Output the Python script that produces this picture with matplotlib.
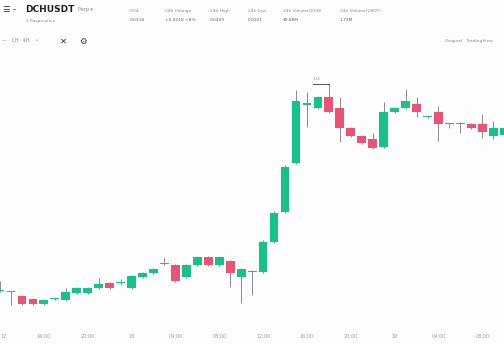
import numpy as np
import matplotlib
matplotlib.use("Agg")
import matplotlib.pyplot as plt

# hourly candles, oldest first
opens = [0.39, 0.38, 0.34, 0.31, 0.26, 0.31, 0.30, 0.37, 0.37, 0.42,
         0.47, 0.47, 0.42, 0.53, 0.57, 0.66, 0.65, 0.53, 0.65, 0.73,
         0.65, 0.69, 0.53, 0.58, 0.58, 0.88, 1.18, 1.67, 2.25, 2.22,
         2.33, 2.22, 2.02, 1.94, 1.91, 1.83, 2.18, 2.22, 2.26, 2.13,
         2.18, 2.06, 2.06, 2.06, 2.06, 1.94, 1.95]
highs = [0.49, 0.39, 0.35, 0.32, 0.31, 0.32, 0.42, 0.43, 0.43, 0.52,
         0.48, 0.51, 0.55, 0.58, 0.62, 0.72, 0.66, 0.66, 0.74, 0.74,
         0.74, 0.70, 0.62, 0.60, 0.90, 1.19, 1.65, 2.40, 2.38, 2.34,
         2.46, 2.33, 2.03, 1.95, 1.97, 2.28, 2.23, 2.41, 2.33, 2.14,
         2.24, 2.07, 2.08, 2.07, 2.16, 2.09, 2.04]
lows = [0.38, 0.25, 0.25, 0.25, 0.25, 0.30, 0.29, 0.36, 0.36, 0.41,
        0.41, 0.45, 0.41, 0.52, 0.56, 0.65, 0.48, 0.52, 0.64, 0.64,
        0.64, 0.43, 0.27, 0.35, 0.57, 0.87, 1.17, 1.66, 2.03, 2.21,
        2.17, 1.88, 1.93, 1.86, 1.81, 1.82, 2.17, 2.21, 2.13, 2.12,
        1.89, 2.02, 1.97, 2.01, 1.92, 1.91, 1.91]
closes = [0.39, 0.38, 0.26, 0.26, 0.30, 0.31, 0.38, 0.42, 0.42, 0.46,
          0.42, 0.47, 0.54, 0.57, 0.61, 0.66, 0.49, 0.65, 0.73, 0.65,
          0.73, 0.57, 0.61, 0.58, 0.88, 1.17, 1.63, 2.29, 2.27, 2.33,
          2.18, 2.02, 1.94, 1.87, 1.82, 2.18, 2.22, 2.29, 2.18, 2.13,
          2.06, 2.06, 2.06, 2.02, 1.98, 2.02, 2.02]
time_labels = ["12", "16:00", "20:00", "18", "04:00", "08:00",
               "12:00", "16:00", "20:00", "19", "04:00", "08:00"]
session_high = 2.46

UP, DOWN = "#14c389", "#ec5273"

o = np.array(opens); h = np.array(highs); l = np.array(lows); c = np.array(closes)
x = np.arange(len(o))
up = c >= o
cols = np.where(up, UP, DOWN)
bottom = np.minimum(o, c)
height = np.maximum(np.abs(c - o), 0.012)

fig = plt.figure(figsize=(5.04, 3.44), dpi=100)
fig.patch.set_facecolor("#fdfdfd")
ax = fig.add_axes([0, 24 / 344, 1, 270 / 344])
ax.set_facecolor("#fdfdfd")

ax.vlines(x, l, h, color="#8a8a8a", linewidth=0.7, zorder=1)
ax.bar(x, height, bottom=bottom, width=0.8, color=cols, zorder=2)

# session high marker
ihi = int(np.argmax(h))
ax.plot([ihi - 1.45, ihi], [session_high, session_high], color="#555", lw=0.7)
ax.text(ihi - 1.45, session_high + 0.03, f"{session_high:.2f}", fontsize=2.5,
        color="#999", ha="left", va="bottom")

ax.set_xlim(4.05 / 11.05, 508.05 / 11.05)
ax.set_ylim(0.10, 2.80)
for s in ax.spines.values():
    s.set_visible(False)
ax.set_yticks([])
ax.set_xticks(np.arange(0, 45, 4))
ax.set_xticklabels(time_labels, fontsize=3.5, color="#9a9a9a")
ax.tick_params(axis="x", length=0, pad=10)
ax.get_xticklabels()[0].set_ha("left")
ax.get_xticklabels()[0].set_x(0.5)

# header
fig.text(2 / 504, 1 - 10 / 344, "☰", fontsize=6, color="#333", va="center")
fig.text(13 / 504, 1 - 10 / 344, "-", fontsize=6, color="#333", va="center")
fig.text(25 / 504, 1 - 10 / 344, "DCHUSDT", fontsize=6.5, fontweight="bold",
         color="#222", va="center")
fig.text(78 / 504, 1 - 10 / 344, "Perp ▾", fontsize=3.5, color="#888", va="center")
fig.text(26 / 504, 1 - 21 / 344, "$ Kaspa price", fontsize=3.2, color="#888",
         va="center")
stats = [(130, "0.04", "0.0318"), (165, "24h Change", "+0.0018 +8%"),
         (210, "24h High", "0.0409"), (248, "24h Low", "0.0301"),
         (283, "24h Volume(DCH)", "49.88M"), (340, "24h Volume(USDT)", "1.79M")]
for px, top, bot in stats:
    fig.text(px / 504, 1 - 11 / 344, top, fontsize=3.2, color="#888", va="center")
    fig.text(px / 504, 1 - 20 / 344, bot, fontsize=3.2, color="#666", va="center")

fig.text(2 / 504, 1 - 41 / 344, "—   1H   4H    •", fontsize=3.5, color="#888",
         va="center")
fig.text(60 / 504, 1 - 41 / 344, "✕", fontsize=6, color="#333", va="center")
fig.text(79 / 504, 1 - 41 / 344, "⚙", fontsize=6, color="#333", va="center")
fig.text(445 / 504, 1 - 41 / 344, "Original   TradingView", fontsize=3.2,
         color="#888", va="center")

fig.savefig("out.png", dpi=100, facecolor=fig.get_facecolor())
